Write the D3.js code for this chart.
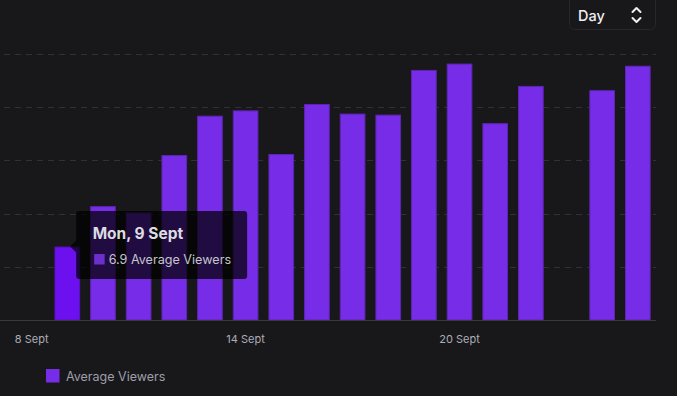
<!DOCTYPE html>
<html><head><meta charset="utf-8">
<script src="https://cdn.jsdelivr.net/npm/d3@7"></script>
<style>
html,body{margin:0;padding:0;background:#18181b;}
svg{display:block;font-family:Inter,"Noto Sans",sans-serif;}
</style></head>
<body>
<svg id="chart" width="677" height="396"></svg>
<script>
const categories = ["8 Sept","9 Sept","10 Sept","11 Sept","12 Sept","13 Sept","14 Sept","15 Sept","16 Sept","17 Sept","18 Sept","19 Sept","20 Sept","21 Sept","22 Sept","23 Sept","24 Sept","25 Sept"];
const averageViewers = [null,6.9,10.7,10.1,15.5,19.2,19.7,15.6,20.3,19.4,19.3,23.5,24.1,18.5,22.0,null,21.6,23.9];
const tickLabels = ["8 Sept","14 Sept","20 Sept"];
const gridValues = [5,10,15,20,25];
const seriesName = "Average Viewers";
const tooltipTitle = "Mon, 9 Sept";
const hoveredIndex = 1;
const periodLabel = "Day";

const svg = d3.select("#chart");
const x = d3.scaleBand().domain(categories).range([1,668.5]).paddingInner(0.28).paddingOuter(0.5);
const y = d3.scaleLinear().domain([0,25]).range([320,54]);

// grid
svg.append("g").selectAll("line").data(gridValues).join("line")
  .attr("x1",4).attr("x2",656)
  .attr("y1",d=>Math.round(y(d))+0.5).attr("y2",d=>Math.round(y(d))+0.5)
  .attr("stroke","#303036").attr("stroke-width",1).attr("stroke-dasharray","6,5");

// bars
const data = categories.map((c,i)=>({c,v:averageViewers[i],i})).filter(d=>d.v!=null);
svg.append("g").selectAll("rect").data(data).join("rect")
  .attr("x",d=>x(d.c)+0.5).attr("width",x.bandwidth()-1)
  .attr("y",d=>y(d.v)+0.5).attr("height",d=>y(0)-y(d.v)-0.5)
  .attr("fill",d=>d.i===hoveredIndex?"#6d10f0":"#772ce8")
  .attr("stroke",d=>d.i===hoveredIndex?"#5a12c4":"#5e25b4").attr("stroke-width",1);

// baseline
svg.append("line").attr("x1",0).attr("x2",656).attr("y1",320.5).attr("y2",320.5)
  .attr("stroke","#38383e").attr("stroke-width",1);

// x axis labels
const xAxis = d3.axisBottom(x).tickValues(tickLabels).tickSize(0).tickPadding(0);
const gx = svg.append("g").attr("transform","translate(0,335)").call(xAxis);
gx.select(".domain").remove();
gx.selectAll("text").attr("fill","#adadb8").attr("font-size","11px").attr("dy","0.71em")
  .attr("font-family","Inter, sans-serif");

// tooltip
const hov = data.find(d=>d.i===hoveredIndex);
const tx = x(hov.c)+x.bandwidth()-4, ty = 211;
const tip = svg.append("g");
tip.append("rect").attr("x",tx).attr("y",ty).attr("width",171).attr("height",68).attr("rx",3)
  .attr("fill","rgba(0,0,0,0.72)");
tip.append("path").attr("d",`M${tx},${y(hov.v)-6} L${tx-6},${y(hov.v)} L${tx},${y(hov.v)+6} Z`)
  .attr("fill","rgba(0,0,0,0.72)");
tip.append("text").attr("x",tx+16.5).attr("y",ty+28).text(tooltipTitle)
  .attr("fill","#dcdce2").attr("font-size","15.5px").attr("font-weight","700");
tip.append("rect").attr("x",tx+18).attr("y",ty+43).attr("width",10.5).attr("height",10.5)
  .attr("fill","#6d2fcc");
tip.append("text").attr("x",tx+32.5).attr("y",ty+53).text(hov.v+" "+seriesName)
  .attr("fill","#c4c4cc").attr("font-size","12.6px");

// legend
svg.append("rect").attr("x",46).attr("y",369).attr("width",13.5).attr("height",13.5).attr("fill","#772ce8");
svg.append("text").attr("x",66).attr("y",380.5).text(seriesName).attr("fill","#9e9ea8").attr("font-size","12.5px");

// period selector
const sel = svg.append("g");
sel.append("rect").attr("x",569.5).attr("y",-6).attr("width",86).attr("height",35.5).attr("rx",5)
  .attr("fill","#18181b").attr("stroke","#26262b");
sel.append("text").attr("x",578).attr("y",21).text(periodLabel).attr("fill","#efeff1").attr("font-size","14.5px").attr("font-weight","500");
sel.append("path").attr("d","M632.5,12 L636.5,8 L640.5,12 M632.5,18 L636.5,22 L640.5,18")
  .attr("fill","none").attr("stroke","#efeff1").attr("stroke-width",2).attr("stroke-linecap","round").attr("stroke-linejoin","round");
</script>
</body></html>
